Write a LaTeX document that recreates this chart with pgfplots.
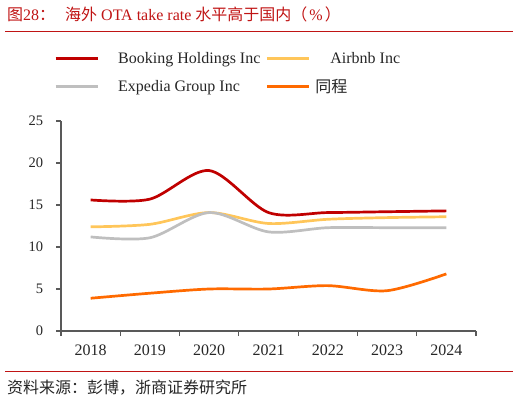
\documentclass[border=0pt]{standalone}
\usepackage{fontspec}
\setmainfont{Liberation Serif}
\newfontfamily\cjk{Noto Sans CJK SC}
\usepackage{pgfplots}
\pgfplotsset{compat=1.18}

\definecolor{bkred}{RGB}{192,0,0}
\definecolor{abgold}{RGB}{255,198,90}
\definecolor{exgray}{RGB}{191,191,191}
\definecolor{tcorange}{RGB}{255,106,0}
\definecolor{titlered}{RGB}{192,20,20}
\definecolor{axgray}{RGB}{89,89,89}
\definecolor{txt}{RGB}{38,38,38}

\begin{document}
\begin{tikzpicture}[x=1bp,y=1bp]
\path[use as bounding box] (0,0) rectangle (520,402);

% title and rules
\node[anchor=base west, inner sep=0pt, text=titlered, font=\fontsize{16bp}{18bp}\selectfont]
  at (7,382) {{\cjk 图}28{\cjk ：}\hspace{10bp}{\cjk 海外} OTA take rate {\cjk 水平高于国内（}\hspace{2bp}\%\hspace{2bp}{\cjk ）}};
\draw[titlered, line width=1bp] (5,371) -- (513,371);
\draw[titlered, line width=1bp] (5,31) -- (513,31);
\node[anchor=base west, inner sep=0pt, text=txt, font=\cjk\fontsize{16bp}{18bp}\selectfont]
  at (7,9) {资料来源：彭博，浙商证券研究所};

\begin{axis}[
  at={(61bp,71bp)}, anchor=south west,
  scale only axis, width=415bp, height=210bp,
  xmin=-0.5, xmax=6.5, ymin=0, ymax=25,
  axis x line*=bottom, axis y line*=left,
  axis line style={draw=axgray, line width=1.2bp, -},
  tick align=outside,
  major tick length=5bp,
  tick style={draw=axgray, line width=1.2bp},
  xtick={-0.5,0.5,...,6.5}, xticklabels={},
  extra x ticks={0,1,2,3,4,5,6},
  extra x tick labels={2018,2019,2020,2021,2022,2023,2024},
  extra x tick style={major tick length=0pt},
  ytick={0,5,10,15,20,25},
  /pgf/number format/assume math mode=true,
  xticklabel style={anchor=north, inner sep=0pt, yshift=-14bp, text=txt, font=\fontsize{16bp}{18bp}\selectfont},
  yticklabel style={anchor=east, inner sep=0pt, xshift=-12.7bp, text=txt, font=\fontsize{14.5bp}{16bp}\selectfont},
  legend columns=2,
  legend cell align=left,
  legend image code/.code={\draw[#1, line width=3bp] (0bp,0bp) -- (42bp,0bp);},
  legend style={at={(-0.0169,1.33)}, anchor=north west, draw=none, fill=none,
    inner sep=0pt, row sep=14.5bp, text=txt,
    font=\fontsize{16bp}{18bp}\selectfont,
    nodes={inner sep=0pt},
    /tikz/every odd column/.append style={column sep=5bp},
    /tikz/every even column/.append style={column sep=5bp}},
  every axis plot/.append style={line width=2.7bp, smooth},
]
\addplot[bkred] coordinates {(0,15.6) (1,15.7) (2,19.1) (3,14.1) (4,14.1) (5,14.2) (6,14.3)};
\addlegendentry{\hspace{14bp}Booking Holdings Inc}
\addplot[abgold] coordinates {(0,12.4) (1,12.7) (2,14.1) (3,12.8) (4,13.3) (5,13.5) (6,13.6)};
\addlegendentry{\hspace{15bp}Airbnb Inc}
\addplot[exgray] coordinates {(0,11.2) (1,11.1) (2,14.1) (3,11.8) (4,12.3) (5,12.3) (6,12.3)};
\addlegendentry{\hspace{14bp}Expedia Group Inc}
\addplot[tcorange] coordinates {(0,3.9) (1,4.5) (2,5.0) (3,5.0) (4,5.4) (5,4.8) (6,6.8)};
\addlegendentry{{\cjk 同程}}
\end{axis}
\end{tikzpicture}
\end{document}
